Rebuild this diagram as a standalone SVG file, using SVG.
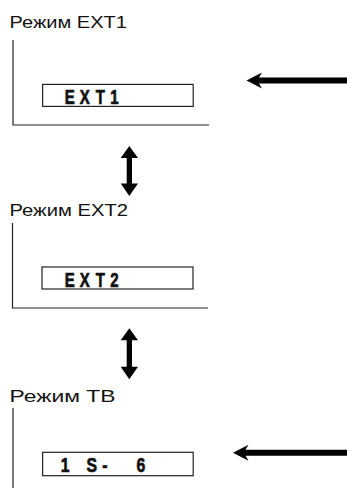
<svg xmlns="http://www.w3.org/2000/svg" width="347" height="488" viewBox="0 0 347 488">
<style>
.title{font-family:"Liberation Sans",Arial,sans-serif;font-size:17px;fill:#111}
.frame{fill:none;stroke:#222;stroke-width:1.2}
.box{fill:#fff;stroke:#222;stroke-width:1.2}
.lcd{font-family:"Liberation Sans",Arial,sans-serif;font-weight:bold;font-size:20px;fill:#111;stroke:#111;stroke-width:0.7}
.arr{fill:#000}
</style>
<rect width="347" height="488" fill="#fff"/>
<g id="mode-ext1">
<text class="title" x="9.5" y="28.3" textLength="117.5" lengthAdjust="spacingAndGlyphs">Режим EXT1</text>
<path class="frame" d="M13 40V125H209"/>
<rect class="box" x="42.6" y="84.4" width="150.6" height="22"/>
<text class="lcd" transform="translate(0,104.3) scale(0.75,1)"><tspan x="86.5 106.5 127.6 147.1" y="0">EXT1</tspan></text>
</g>
<g id="mode-ext2">
<text class="title" x="9.5" y="215.5" textLength="118.5" lengthAdjust="spacingAndGlyphs">Режим EXT2</text>
<path class="frame" d="M12.5 223V308H208"/>
<rect class="box" x="42" y="267" width="151" height="22"/>
<text class="lcd" transform="translate(0,287) scale(0.75,1)"><tspan x="86.5 106.5 127.6 147.1" y="0">EXT2</tspan></text>
</g>
<g id="mode-tv">
<text class="title" x="9.5" y="402" textLength="106" lengthAdjust="spacingAndGlyphs">Режим ТВ</text>
<path class="frame" d="M13 408V488"/>
<rect class="box" x="42.6" y="452.3" width="150.6" height="23.4"/>
<text class="lcd" style="font-size:21px" transform="translate(0,472) scale(0.75,1)"><tspan x="81.1 115.2 136.3 182" y="0">1S-6</tspan></text>
</g>
<g id="connectors">
<polygon class="arr" points="246.5,80.5 262,72.5 259,77.5 347,77.5 347,83.5 259,83.5 262,88.5"/>
<polygon class="arr" points="233,452.7 248.5,444.7 245.5,449.7 347,449.7 347,455.7 245.5,455.7 248.5,460.7"/>
<polygon class="arr" points="129.3,146 120.7,158 126.7,158 126.7,183.5 120.7,183.5 129.3,196 138,183.5 132,183.5 132,158 138,158"/>
<polygon class="arr" points="129.3,328.3 120.7,340.3 126.7,340.3 126.7,366.8 120.7,366.8 129.3,379.3 138,366.8 132,366.8 132,340.3 138,340.3"/>
</g>
</svg>
